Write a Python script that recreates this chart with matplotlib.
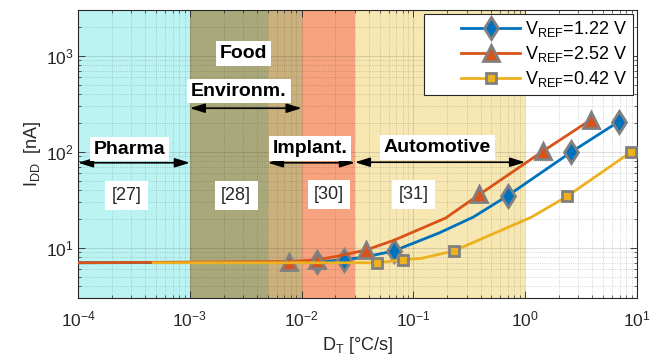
import numpy as np
import matplotlib
matplotlib.use("Agg")
from matplotlib import pyplot as plt
from matplotlib.legend_handler import HandlerLine2D

plt.rcParams['font.family'] = ['Liberation Sans', 'DejaVu Sans']
plt.rcParams['mathtext.default'] = 'regular'
plt.rcParams['axes.unicode_minus'] = False

# application ranges (D_T in degC/s)
span_edges = [1e-4, 1e-3, 5e-3, 1e-2, 3e-2, 1.0]
span_colors = ['#BBF3F3', '#A8A87A', '#C9B07D', '#F7A37F', '#F6E7B3']

# measured supply current, three reference voltages
blue_x = [1e-4, 0.0136, 0.024, 0.038, 0.067, 0.17, 0.343, 0.70, 2.6, 6.9]
blue_y = [7.0, 7.1, 7.5, 8.1, 9.3, 14.3, 20.9, 35, 100, 207]
blue_mk = [1, 2, 4, 7, 8, 9]

red_x = [1e-4, 7.7e-3, 0.0136, 0.021, 0.0377, 0.067, 0.195, 0.39, 1.45, 3.85]
red_y = [7.0, 7.2, 7.5, 8.2, 9.5, 12.0, 20.5, 36, 102, 215]
red_mk = [1, 2, 4, 7, 8, 9]

yel_x = [4.7e-4, 0.047, 0.081, 0.12, 0.23, 1.14, 2.38, 8.9]
yel_y = [7.0, 7.0, 7.5, 7.8, 9.3, 20.9, 34.5, 100]
yel_mk = [1, 2, 4, 6, 7]

labels = ['V$_{REF}$=1.22 V', 'V$_{REF}$=2.52 V', 'V$_{REF}$=0.42 V']

# arrows: (x0, x1, y)
arrows = [(1e-4, 1e-3, 77), (1e-3, 1e-2, 285), (5e-3, 3e-2, 77), (3e-2, 1.0, 78)]
# bold labels
app_names = ['Pharma', 'Food', 'Environm.', 'Implant.', 'Automotive']
app_pos = [(2.9e-4, 107), (3.0e-3, 1050), (2.75e-3, 430), (0.0119, 108), (0.163, 112)]
# reference labels
refs = ['[27]', '[28]', '[30]', '[31]']
ref_pos = [(2.7e-4, 35), (2.6e-3, 35), (0.0176, 36), (0.1, 36)]

c_blue = '#0072BD'
c_red = '#D95319'
c_yel = '#EDB120'
c_edge = '#808080'


class RightHandle(HandlerLine2D):
    # legend line only in the right part of the handle box (matlab look)
    def get_xdata(self, legend, xdescent, ydescent, width, height, fontsize):
        x0 = -xdescent + width * 0.35
        x1 = -xdescent + width
        return np.array([x0, x1]), np.array([(x0 + x1) / 2])


fig = plt.figure(figsize=(6.62, 3.60), dpi=100)
ax = fig.add_axes([0.118, 0.172, 0.844, 0.800])

for i in range(len(span_colors)):
    ax.axvspan(span_edges[i], span_edges[i + 1], color=span_colors[i], lw=0, zorder=0.5)

ax.plot(blue_x, blue_y, color=c_blue, lw=2, marker='d', markevery=blue_mk, ms=11.5,
        mfc=c_blue, mec=c_edge, mew=2, label=labels[0], zorder=3)
ax.plot(red_x, red_y, color=c_red, lw=2, marker='^', markevery=red_mk, ms=11,
        mfc=c_red, mec=c_edge, mew=2, label=labels[1], zorder=3.1)
ax.plot(yel_x, yel_y, color=c_yel, lw=2, marker='s', markevery=yel_mk, ms=7.5,
        mfc=c_yel, mec=c_edge, mew=2, label=labels[2], zorder=3.2)

ax.set_xscale('log')
ax.set_yscale('log')
ax.set_xlim(1e-4, 10)
ax.set_ylim(3, 3000)

for x0, x1, y in arrows:
    ax.annotate('', xy=(x1, y), xytext=(x0, y),
                arrowprops=dict(arrowstyle='<|-|>,head_length=0.9,head_width=0.28',
                                color='black', lw=1.2, shrinkA=0, shrinkB=0), zorder=4)

for name, (x, y) in zip(app_names, app_pos):
    ax.text(x, y, name, ha='center', va='center', fontsize=14, fontweight='bold',
            bbox=dict(boxstyle='square,pad=0.2', fc='white', ec='none'), zorder=4)

for name, (x, y) in zip(refs, ref_pos):
    ax.text(x, y, name, ha='center', va='center', fontsize=13, color='#262626',
            bbox=dict(boxstyle='square,pad=0.35', fc='white', ec='none'), zorder=4)

ax.grid(True, which='major', color='#262626', alpha=0.15, lw=0.8, ls='-')
ax.grid(True, which='minor', color='#262626', alpha=0.25, lw=0.6, ls=':')
ax.tick_params(which='both', direction='in', top=True, right=True, colors='#262626',
               labelsize=12.5)
ax.tick_params(which='major', length=5, width=0.6)
ax.tick_params(which='minor', length=2.5, width=0.5)
ax.tick_params(axis='x', pad=8)
for s in ax.spines.values():
    s.set_color('#262626')
    s.set_linewidth(0.8)

ax.set_xlabel('D$_{T}$ [°C/s]', fontsize=13, color='#262626', labelpad=4)
ax.set_ylabel('I$_{DD}$  [nA]', fontsize=13, color='#262626', labelpad=2)

leg = ax.legend(loc='upper right', fontsize=13, frameon=True, fancybox=False,
                framealpha=1, edgecolor='#262626', handlelength=5.0,
                handletextpad=0.3, borderaxespad=0.2, labelspacing=0.28,
                borderpad=0.3, handler_map={matplotlib.lines.Line2D: RightHandle()})
leg.get_frame().set_linewidth(0.8)
leg.set_zorder(5)

fig.savefig('out.png', dpi=100)
